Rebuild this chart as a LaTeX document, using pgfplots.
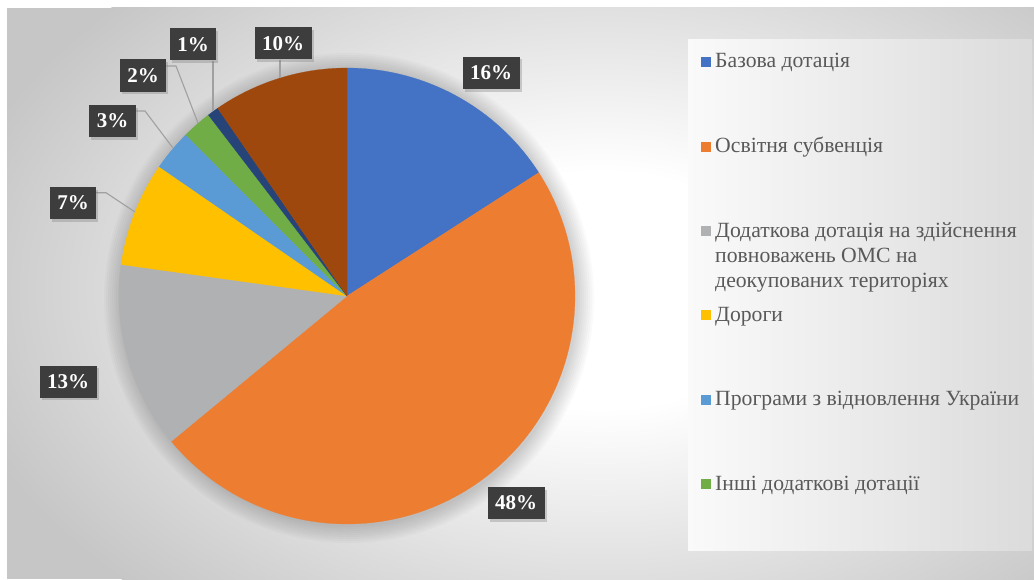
\documentclass[border=0pt]{standalone}
\usepackage{fontspec}
\setmainfont{Liberation Serif}
\usepackage{pgfplots}
\pgfplotsset{compat=1.18}
\usetikzlibrary{shadows}
\definecolor{cBlue}{HTML}{4472C4}
\definecolor{cOrange}{HTML}{ED7D31}
\definecolor{cGray}{HTML}{B0B1B3}
\definecolor{cYellow}{HTML}{FFC000}
\definecolor{cLBlue}{HTML}{5B9BD5}
\definecolor{cGreen}{HTML}{70AD47}
\definecolor{cDBlue}{HTML}{264478}
\definecolor{cBrown}{HTML}{9E480E}
\definecolor{labBox}{HTML}{3D3D3D}
\definecolor{legText}{HTML}{595959}
\definecolor{bgGray}{HTML}{C6C6C6}
\definecolor{leader}{HTML}{A0A0A0}
% shares (percent), clockwise from 12 o'clock
\def\vA{15.9} % Базова дотація
\def\vB{48.1} % Освітня субвенція
\def\vC{13.2} % Додаткова дотація ...
\def\vD{7.4}  % Дороги
\def\vE{2.9}  % Програми з відновлення України
\def\vF{2.1}  % Інші додаткові дотації
\def\vG{0.8}  % (dark blue)
\def\vH{9.6}  % (brown)
\pgfmathsetmacro\aO{0}
\pgfmathsetmacro\aA{\aO+3.6*\vA}
\pgfmathsetmacro\aB{\aA+3.6*\vB}
\pgfmathsetmacro\aC{\aB+3.6*\vC}
\pgfmathsetmacro\aD{\aC+3.6*\vD}
\pgfmathsetmacro\aE{\aD+3.6*\vE}
\pgfmathsetmacro\aF{\aE+3.6*\vF}
\pgfmathsetmacro\aG{\aF+3.6*\vG}
\pgfmathsetmacro\aH{\aG+3.6*\vH}
\pgfdeclareradialshading{bgshade}{\pgfpoint{0bp}{0bp}}{color(0bp)=(white); color(7bp)=(white); color(25bp)=(bgGray); color(50bp)=(bgGray)}
\tikzset{
  lab/.style={fill=labBox, text=white, font=\fontsize{21bp}{24bp}\selectfont\bfseries,
    inner xsep=7.5bp, inner ysep=0bp, minimum height=32bp,
    drop shadow={shadow xshift=2bp, shadow yshift=-2.5bp, opacity=0.35}},
  legt/.style={anchor=base west, inner sep=0pt, text=legText, font=\fontsize{21.7bp}{24bp}\selectfont},
}
\begin{document}
\begin{tikzpicture}
\begin{axis}[
  at={(0,0)}, anchor=south west,
  width=1034bp, height=579bp, scale only axis,
  xmin=0, xmax=1034, ymin=0, ymax=579, y dir=reverse,
  hide axis,
]
% background
\fill[white] (axis cs:0,0) rectangle (axis cs:1034,579);
\fill[bgGray] (axis cs:7,8) rectangle (axis cs:1034,579);
\begin{scope}
\clip (axis cs:7,8) rectangle (axis cs:1034,579);
\shade[shading=bgshade] (axis cs:600,290) ellipse [x radius=660, y radius=420];
\end{scope}
% legend box
\shade[left color=white!96!gray, right color=gray!28] (axis cs:688,40) rectangle (axis cs:1032,550);
% pie shadow
\pgfplotsinvokeforeach{229,231,233,235,237,239,241,243,245} {
  \fill[black, opacity=0.018] (axis cs:349,298) circle [radius=#1];
}
% pie slices
\addplot[fill=cBlue, draw=cBlue, line width=0.2pt, domain=\aO:\aA, samples=60] ({347+228*sin(x)},{296-228*cos(x)}) -- (axis cs:347,296) -- cycle;
\addplot[fill=cOrange, draw=cOrange, line width=0.2pt, domain=\aA:\aB, samples=120] ({347+228*sin(x)},{296-228*cos(x)}) -- (axis cs:347,296) -- cycle;
\addplot[fill=cGray, draw=cGray, line width=0.2pt, domain=\aB:\aC, samples=60] ({347+228*sin(x)},{296-228*cos(x)}) -- (axis cs:347,296) -- cycle;
\addplot[fill=cYellow, draw=cYellow, line width=0.2pt, domain=\aC:\aD, samples=40] ({347+228*sin(x)},{296-228*cos(x)}) -- (axis cs:347,296) -- cycle;
\addplot[fill=cLBlue, draw=cLBlue, line width=0.2pt, domain=\aD:\aE, samples=20] ({347+228*sin(x)},{296-228*cos(x)}) -- (axis cs:347,296) -- cycle;
\addplot[fill=cGreen, draw=cGreen, line width=0.2pt, domain=\aE:\aF, samples=20] ({347+228*sin(x)},{296-228*cos(x)}) -- (axis cs:347,296) -- cycle;
\addplot[fill=cDBlue, draw=cDBlue, line width=0.2pt, domain=\aF:\aG, samples=10] ({347+228*sin(x)},{296-228*cos(x)}) -- (axis cs:347,296) -- cycle;
\addplot[fill=cBrown, draw=cBrown, line width=0.2pt, domain=\aG:\aH, samples=40] ({347+228*sin(x)},{296-228*cos(x)}) -- (axis cs:347,296) -- cycle;
% leader lines
\draw[leader, line width=1.1bp] (axis cs:96,192.7) -- (axis cs:106,192.7) -- (axis cs:135,212);
\draw[leader, line width=1.1bp] (axis cs:136,111) -- (axis cs:145,111) -- (axis cs:173,148);
\draw[leader, line width=1.1bp] (axis cs:166,66) -- (axis cs:176,66) -- (axis cs:198,123);
\draw[leader, line width=1.1bp] (axis cs:213,61) -- (axis cs:213,111);
\draw[leader, line width=1.1bp] (axis cs:280,60) -- (axis cs:280,78);
% data labels
\node[lab] at (axis cs:491,73) {16\%};
\node[lab] at (axis cs:516,503) {48\%};
\node[lab] at (axis cs:68,381.5) {13\%};
\node[lab] at (axis cs:73,203) {7\%};
\node[lab] at (axis cs:112.5,121) {3\%};
\node[lab] at (axis cs:143,75.5) {2\%};
\node[lab] at (axis cs:193,44.5) {1\%};
\node[lab] at (axis cs:283,43.5) {10\%};
% legend
\fill[cBlue]   (axis cs:700.5,57)  rectangle (axis cs:710.5,67);
\fill[cOrange] (axis cs:700.5,141.5) rectangle (axis cs:710.5,151.5);
\fill[cGray]   (axis cs:700.5,225.5) rectangle (axis cs:710.5,235.5);
\fill[cYellow] (axis cs:700.5,310) rectangle (axis cs:710.5,320);
\fill[cLBlue]  (axis cs:700.5,394.5) rectangle (axis cs:710.5,404.5);
\fill[cGreen]  (axis cs:700.5,479) rectangle (axis cs:710.5,489);
\node[legt] at (axis cs:715,68) {Базова дотація};
\node[legt] at (axis cs:715,152.5) {Освітня субвенція};
\node[legt] at (axis cs:715,237.5) {Додаткова дотація на здійснення};
\node[legt] at (axis cs:715,262.5) {повноважень ОМС на};
\node[legt] at (axis cs:715,287.5) {деокупованих територіях};
\node[legt] at (axis cs:715,321) {Дороги};
\node[legt] at (axis cs:715,405.5) {Програми з відновлення України};
\node[legt] at (axis cs:715,490) {Інші додаткові дотації};
\end{axis}
\end{tikzpicture}
\end{document}
